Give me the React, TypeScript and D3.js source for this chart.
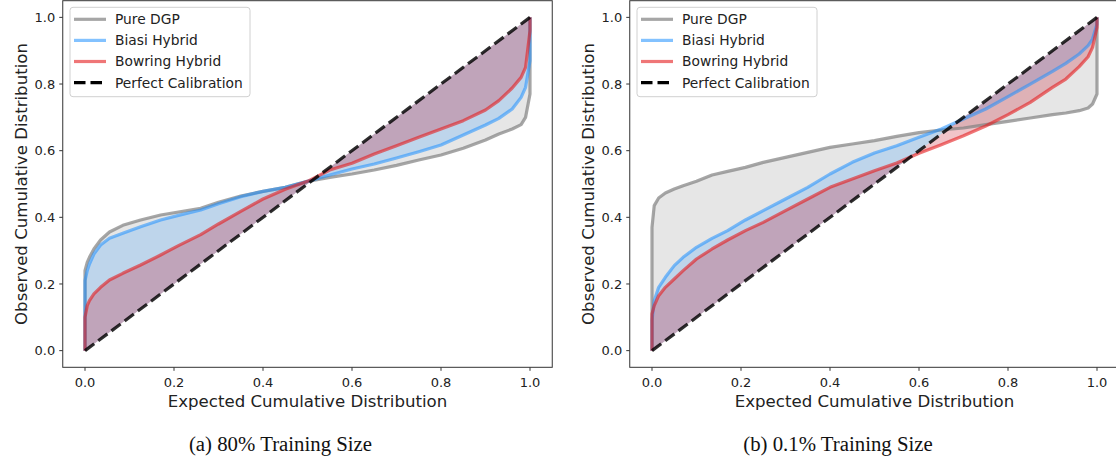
import React from "react";
import * as d3 from "d3";

// ---------- data ----------
const leftX = [0, 0, 0.005, 0.01, 0.02, 0.035, 0.055, 0.085, 0.125, 0.17, 0.21, 0.26, 0.3, 0.35, 0.4, 0.45, 0.5, 0.55, 0.6, 0.65, 0.7, 0.75, 0.8, 0.85, 0.9, 0.93, 0.96, 0.98, 0.99, 1, 1];
const leftPureDGP = [0, 0.24, 0.265, 0.28, 0.305, 0.332, 0.356, 0.376, 0.392, 0.407, 0.416, 0.427, 0.445, 0.464, 0.478, 0.49, 0.508, 0.52, 0.53, 0.542, 0.556, 0.572, 0.587, 0.607, 0.632, 0.65, 0.665, 0.678, 0.7, 0.77, 1.0];
const leftBiasi = [0, 0.21, 0.24, 0.26, 0.29, 0.317, 0.337, 0.352, 0.372, 0.392, 0.406, 0.422, 0.441, 0.462, 0.478, 0.49, 0.508, 0.527, 0.545, 0.56, 0.578, 0.597, 0.617, 0.647, 0.677, 0.697, 0.725, 0.76, 0.79, 0.87, 1.0];
const leftBowring = [0, 0.1, 0.135, 0.15, 0.17, 0.19, 0.212, 0.232, 0.257, 0.287, 0.315, 0.348, 0.38, 0.418, 0.455, 0.484, 0.508, 0.542, 0.562, 0.59, 0.615, 0.64, 0.665, 0.69, 0.722, 0.75, 0.788, 0.82, 0.85, 0.96, 1.0];

const rightX = [0, 0, 0.005, 0.015, 0.03, 0.05, 0.07, 0.1, 0.135, 0.17, 0.21, 0.25, 0.3, 0.35, 0.4, 0.45, 0.5, 0.55, 0.6, 0.65, 0.7, 0.75, 0.8, 0.85, 0.9, 0.93, 0.96, 0.98, 0.99, 1, 1];
const rightPureDGP = [0, 0.37, 0.435, 0.458, 0.473, 0.485, 0.495, 0.508, 0.527, 0.538, 0.55, 0.565, 0.58, 0.595, 0.61, 0.62, 0.63, 0.643, 0.654, 0.662, 0.668, 0.678, 0.688, 0.698, 0.708, 0.713, 0.72, 0.728, 0.74, 0.77, 1.0];
const rightBiasi = [0, 0.09, 0.15, 0.19, 0.22, 0.255, 0.28, 0.31, 0.337, 0.36, 0.392, 0.42, 0.455, 0.49, 0.53, 0.565, 0.593, 0.615, 0.64, 0.665, 0.695, 0.725, 0.762, 0.8, 0.838, 0.862, 0.89, 0.915, 0.935, 0.98, 1.0];
const rightBowring = [0, 0.11, 0.135, 0.165, 0.19, 0.215, 0.24, 0.275, 0.305, 0.332, 0.36, 0.385, 0.42, 0.455, 0.49, 0.515, 0.54, 0.563, 0.592, 0.618, 0.645, 0.674, 0.708, 0.745, 0.79, 0.815, 0.852, 0.882, 0.91, 0.97, 1.0];

const ticks = [0, 0.2, 0.4, 0.6, 0.8, 1.0];
const tickLabels = ["0.0", "0.2", "0.4", "0.6", "0.8", "1.0"];
const seriesNames = ["Pure DGP", "Biasi Hybrid", "Bowring Hybrid", "Perfect Calibration"];
const captions = ["(a) 80% Training Size", "(b) 0.1% Training Size"];
const xLabel = "Expected Cumulative Distribution";
const yLabel = "Observed Cumulative Distribution";

// ---------- styles ----------
const lineColors = ["#808080", "#1e90ff", "#e41a1c"];
const lineOpacity = [0.7, 0.55, 0.6];
const fillColors = ["rgba(128,128,128,0.2)", "rgba(30,144,255,0.2)", "rgba(200,20,40,0.25)"];
const LW = 3.2;
const DASH = "11.5,5";
const FONT = "DejaVu Sans, sans-serif";

type Panel = { x: number[]; ys: number[][]; left: number; caption: string; capX: number };

const panels: Panel[] = [
  { x: leftX, ys: [leftPureDGP, leftBiasi, leftBowring], left: 62.75, caption: captions[0], capX: 280.5 },
  { x: rightX, ys: [rightPureDGP, rightBiasi, rightBowring], left: 629.75, caption: captions[1], capX: 838 },
];

const AX_W = 489.5;
const AX_TOP = 0.7;
const AX_BOT = 367.3;

function PanelView({ p }: { p: Panel }) {
  const xs = d3.scaleLinear().domain([-0.05, 1.05]).range([p.left, p.left + AX_W]);
  const ys = d3.scaleLinear().domain([-0.05, 1.05]).range([AX_BOT, AX_TOP]);
  const idx = d3.range(p.x.length);
  const midX = p.left + AX_W / 2;
  const midY = (AX_TOP + AX_BOT) / 2;

  const diag = d3.line<number>().x((v) => xs(v)).y((v) => ys(v))([0, 1]) as string;

  return (
    <g>
      {p.ys.map((yv, k) => {
        const area = d3
          .area<number>()
          .x((i) => xs(p.x[i]))
          .y0((i) => ys(p.x[i]))
          .y1((i) => ys(yv[i]))(idx) as string;
        return <path key={"a" + k} d={area} fill={fillColors[k]} stroke="none" />;
      })}
      {p.ys.map((yv, k) => {
        const ln = d3
          .line<number>()
          .x((i) => xs(p.x[i]))
          .y((i) => ys(yv[i]))(idx) as string;
        return (
          <path key={"l" + k} d={ln} fill="none" stroke={lineColors[k]} strokeOpacity={lineOpacity[k]} strokeWidth={LW} strokeLinejoin="round" />
        );
      })}
      <path d={diag} stroke="#000" strokeOpacity={0.82} strokeWidth={LW} strokeDasharray={DASH} fill="none" />
      {/* frame */}
      <rect x={p.left} y={AX_TOP} width={AX_W} height={AX_BOT - AX_TOP} fill="none" stroke="#333" strokeWidth={1} />
      {/* x ticks */}
      {ticks.map((t, i) => (
        <g key={"xt" + i}>
          <line x1={xs(t)} x2={xs(t)} y1={AX_BOT} y2={AX_BOT + 3.5} stroke="#333" />
          <text x={xs(t)} y={387} textAnchor="middle" fontFamily={FONT} fontSize={13} fill="#222">
            {tickLabels[i]}
          </text>
        </g>
      ))}
      {ticks.map((t, i) => (
        <g key={"yt" + i}>
          <line x1={p.left - 3.5} x2={p.left} y1={ys(t)} y2={ys(t)} stroke="#333" />
          <text x={p.left - 7.5} y={ys(t) + 4.6} textAnchor="end" fontFamily={FONT} fontSize={13} fill="#222">
            {tickLabels[i]}
          </text>
        </g>
      ))}
      <text x={midX} y={407} textAnchor="middle" fontFamily={FONT} fontSize={16.6} fill="#222">
        {xLabel}
      </text>
      <text
        transform={`translate(${p.left - 36},${midY}) rotate(-90)`}
        textAnchor="middle"
        fontFamily={FONT}
        fontSize={16.6}
        fill="#222"
      >
        {yLabel}
      </text>
      {/* legend */}
      <g transform={`translate(${p.left + 7.25},7.3)`}>
        <rect x={0} y={0} width={180} height={89.4} rx={3} fill="#fff" fillOpacity={0.8} stroke="#d0d0d0" />
        {seriesNames.map((n, i) => {
          const yy = 12 + i * 21.1;
          return (
            <g key={"lg" + i}>
              {i < 3 ? (
                <line x1={4} x2={36} y1={yy} y2={yy} stroke={lineColors[i]} strokeOpacity={lineOpacity[i]} strokeWidth={LW} />
              ) : (
                <line x1={4} x2={36} y1={yy} y2={yy} stroke="#000" strokeWidth={LW} strokeDasharray={DASH} />
              )}
              <text x={45} y={yy + 5} fontFamily={FONT} fontSize={13.8} fill="#222">
                {n}
              </text>
            </g>
          );
        })}
      </g>
      <text x={p.capX} y={451} textAnchor="middle" fontFamily="Liberation Serif, Times New Roman, serif" fontSize={20.8} fill="#111">
        {p.caption}
      </text>
    </g>
  );
}

export default function App() {
  return (
    <svg width={1116} height={460} style={{ position: "absolute", left: 0, top: 0, background: "#fff" }}>
      <rect x={0} y={0} width={1116} height={460} fill="#fff" />
      {panels.map((p, i) => (
        <PanelView key={i} p={p} />
      ))}
    </svg>
  );
}
